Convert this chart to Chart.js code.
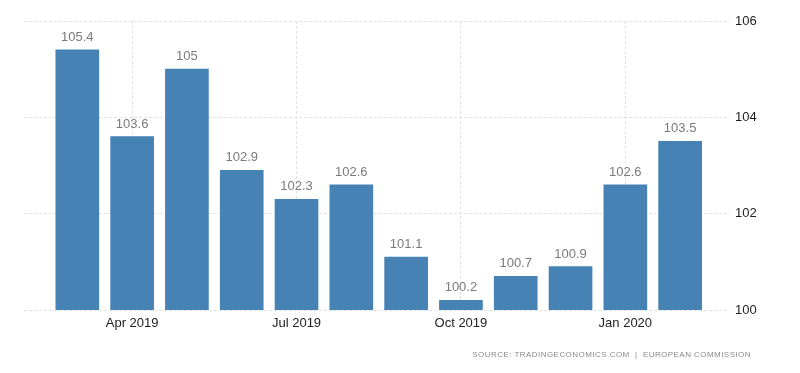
<!DOCTYPE html>
<html>
<head>
<meta charset="utf-8">
<script src="https://cdn.jsdelivr.net/npm/chart.js@4"></script>
<style>
    html, body { margin: 0; padding: 0; background: #fff; }
    #contenedor { position: relative; width: 800px; height: 373px; }
    #fuente {
        position: absolute; right: 49px; top: 350px;
        font: 8px "Liberation Sans", Arial, sans-serif;
        letter-spacing: 0.45px; color: #8a8a8a;
    }
</style>
</head>
<body>
<div id="contenedor">
    <canvas id="grafico" width="800" height="373"></canvas>
    <div id="fuente">SOURCE: TRADINGECONOMICS.COM &nbsp;| &nbsp;EUROPEAN COMMISSION</div>
</div>
<script>
// Datos mensuales
const meses = ['Mar 2019', 'Apr 2019', 'May 2019', 'Jun 2019', 'Jul 2019', 'Aug 2019',
    'Sep 2019', 'Oct 2019', 'Nov 2019', 'Dec 2019', 'Jan 2020', 'Feb 2020'];
const valores = [105.4, 103.6, 105, 102.9, 102.3, 102.6, 101.1, 100.2, 100.7, 100.9, 102.6, 103.5];

// Etiquetas del eje X y del eje Y
const etiquetasEjeX = ['Apr 2019', 'Jul 2019', 'Oct 2019', 'Jan 2020'];
const ticksEjeY = [100, 102, 104, 106];

const colorBarra = '#4682b4';
const colorRejilla = '#e2e2e2';

// Plugin para escribir el valor sobre cada barra
const etiquetasValor = {
    id: 'etiquetasValor',
    afterDatasetsDraw(chart) {
        const ctx = chart.ctx;
        const meta = chart.getDatasetMeta(0);
        ctx.save();
        ctx.font = '13px "Liberation Sans", Arial, sans-serif';
        ctx.fillStyle = '#7a7a7a';
        ctx.textAlign = 'center';
        ctx.textBaseline = 'alphabetic';
        meta.data.forEach((barra, i) => {
            ctx.fillText(String(valores[i]), barra.x, barra.y - 9);
        });
        ctx.restore();
    }
};

const ctx = document.getElementById('grafico').getContext('2d');

new Chart(ctx, {
    type: 'bar',
    data: {
        datasets: [{
            data: valores.map((v, i) => ({ x: i, y: v })),
            backgroundColor: colorBarra,
            barThickness: 43
        }]
    },
    options: {
        responsive: false,
        animation: false,
        layout: { padding: { top: 21, left: 24, right: 0, bottom: 0 } },
        plugins: {
            legend: { display: false },
            tooltip: { enabled: false }
        },
        scales: {
            x: {
                type: 'linear',
                offset: false,
                min: -0.973,
                max: 11.91,
                afterBuildTicks: (scale) => {
                    scale.ticks = etiquetasEjeX.map(t => ({ value: meses.indexOf(t) }));
                },
                afterFit: (scale) => { scale.height = 63; },
                ticks: {
                    callback: (v) => meses[v],
                    color: '#222',
                    font: { family: '"Liberation Sans", Arial, sans-serif', size: 13 },
                    padding: 6,
                    maxRotation: 0
                },
                grid: { color: colorRejilla, drawTicks: false, offset: false },
                border: { display: false, dash: [3, 2] }
            },
            y: {
                position: 'right',
                min: 100,
                max: 106,
                afterBuildTicks: (scale) => {
                    scale.ticks = ticksEjeY.map(v => ({ value: v }));
                },
                afterFit: (scale) => { scale.width = 70; },
                ticks: {
                    color: '#222',
                    font: { family: '"Liberation Sans", Arial, sans-serif', size: 13 },
                    padding: 5
                },
                grid: { color: colorRejilla, drawTicks: false },
                border: { display: false, dash: [3, 2] }
            }
        }
    },
    plugins: [etiquetasValor]
});
</script>
</body>
</html>
